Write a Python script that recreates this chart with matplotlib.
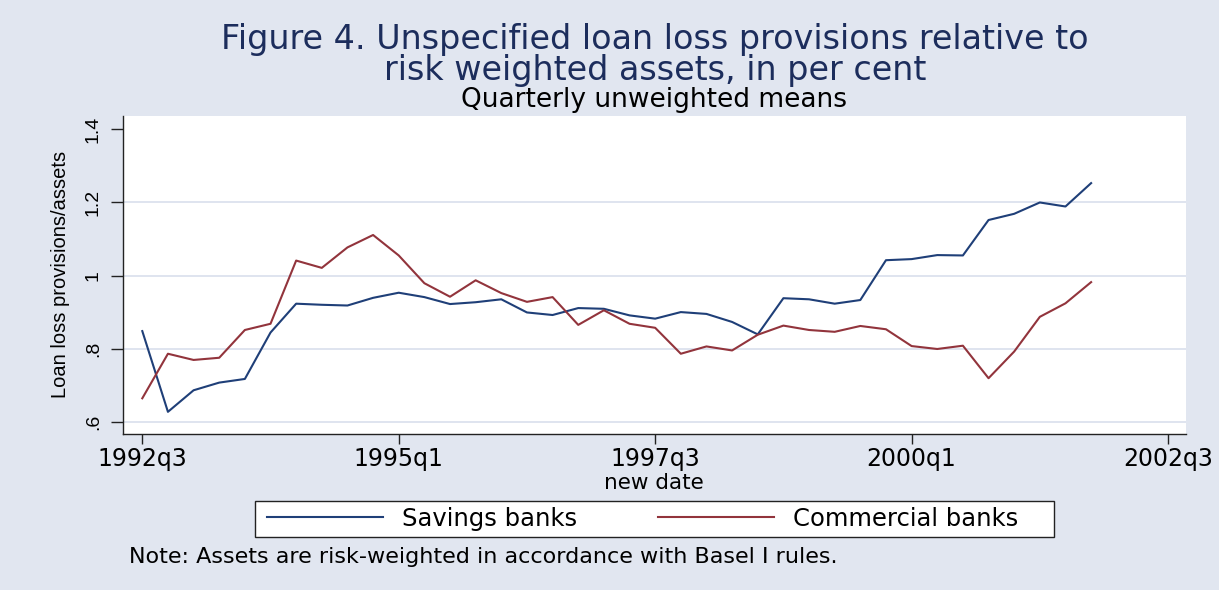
import matplotlib
matplotlib.use('Agg')
import matplotlib.pyplot as plt
from matplotlib.patches import Rectangle
import numpy as np
import pandas as pd

# quarterly unweighted means, 1992q3 .. 2001q4
savings = [0.848, 0.627, 0.686, 0.707, 0.717, 0.844, 0.923, 0.920, 0.918, 0.939,
           0.953, 0.941, 0.922, 0.927, 0.935, 0.899, 0.892, 0.911, 0.909, 0.891,
           0.882, 0.900, 0.895, 0.873, 0.839, 0.938, 0.935, 0.923, 0.933, 1.042,
           1.045, 1.056, 1.055, 1.152, 1.169, 1.200, 1.189, 1.253]
commercial = [0.664, 0.786, 0.769, 0.775, 0.851, 0.868, 1.041, 1.021, 1.077, 1.111,
              1.055, 0.979, 0.942, 0.987, 0.952, 0.928, 0.941, 0.865, 0.905, 0.868,
              0.857, 0.786, 0.806, 0.795, 0.838, 0.863, 0.851, 0.846, 0.862, 0.853,
              0.807, 0.799, 0.808, 0.719, 0.792, 0.887, 0.924, 0.982]
first_quarter = '1992Q3'
x_tick_labels = ['1992q3', '1995q1', '1997q3', '2000q1', '2002q3']
y_ticks = [0.6, 0.8, 1.0, 1.2, 1.4]
y_tick_labels = ['.6', '.8', '1', '1.2', '1.4']
series_names = ['Savings banks', 'Commercial banks']

bg = '#e1e6f0'
navy = '#1f3f78'
maroon = '#92343c'
title_col = '#1c2d5c'

quarters = pd.period_range(first_quarter, periods=len(savings), freq='Q')
x = np.arange(len(quarters))
x_ticks = [(pd.Period(t.upper(), freq='Q') - quarters[0]).n for t in x_tick_labels]

W, H = 1219, 590
def fx(px):
    return px / W
def fy(py):
    return 1 - py / H

fig = plt.figure(figsize=(W / 100, H / 100), dpi=100, facecolor=bg)
ax = fig.add_axes([fx(122.7), fy(433.5), (1186 - 122.7) / W, (433.5 - 115.7) / H])
ax.set_facecolor('white')

for v in y_ticks[:-1]:
    ax.axhline(v, color='#dce2ee', lw=1.3, zorder=1)

ax.plot(x, savings, color=navy, lw=1.5, zorder=3, label=series_names[0])
ax.plot(x, commercial, color=maroon, lw=1.5, zorder=3, label=series_names[1])

ax.set_xlim(-0.764, 40.70)
ax.set_ylim(0.5677, 1.4375)

for s in ['top', 'right']:
    ax.spines[s].set_visible(False)
for s in ['left', 'bottom']:
    ax.spines[s].set_color('#222222')
    ax.spines[s].set_linewidth(1.0)

ax.set_xticks(x_ticks)
ax.set_xticklabels(x_tick_labels, fontsize=17, family='DejaVu Sans')
ax.set_yticks(y_ticks)
ax.set_yticklabels(y_tick_labels, fontsize=14, family='Liberation Sans', rotation=90, va='center')
ax.tick_params(axis='x', length=7, width=1, color='#222222', pad=3)
ax.tick_params(axis='y', length=9, width=1, color='#222222', pad=6)

ax.set_xlabel('new date', fontsize=15.5, family='DejaVu Sans', labelpad=1)
fig.text(fx(60), fy(274.6), 'Loan loss provisions/assets', rotation=90,
         ha='center', va='center', fontsize=14.5, family='Liberation Sans')

fig.text(fx(655), fy(55),
         'Figure 4. Unspecified loan loss provisions relative to\nrisk weighted assets, in per cent',
         ha='center', va='center', ma='center', linespacing=0.92,
         fontsize=24, color=title_col, family='DejaVu Sans')
fig.text(fx(654), fy(107), 'Quarterly unweighted means',
         ha='center', va='baseline', fontsize=19, color='black', family='DejaVu Sans')

# legend box as in the original, entries placed inside it
fig.patches.append(Rectangle((fx(255), fy(537.3)), (1053.5 - 255) / W, (537.3 - 501) / H,
                             transform=fig.transFigure, facecolor='white',
                             edgecolor='#222222', lw=1.0, zorder=0))
leg = fig.legend(loc='center', bbox_to_anchor=(fx(642.5), fy(519)), ncol=2,
                 prop={'family': 'DejaVu Sans', 'size': 17.5}, frameon=False,
                 handlelength=4.8, handletextpad=0.78, columnspacing=3.3, borderpad=0.2)
for h in leg.get_lines():
    h.set_linewidth(1.5)

fig.text(fx(129), fy(563), 'Note: Assets are risk-weighted in accordance with Basel I rules.',
         ha='left', va='baseline', fontsize=16, family='DejaVu Sans')

fig.savefig('out.png', dpi=100, facecolor=bg)
